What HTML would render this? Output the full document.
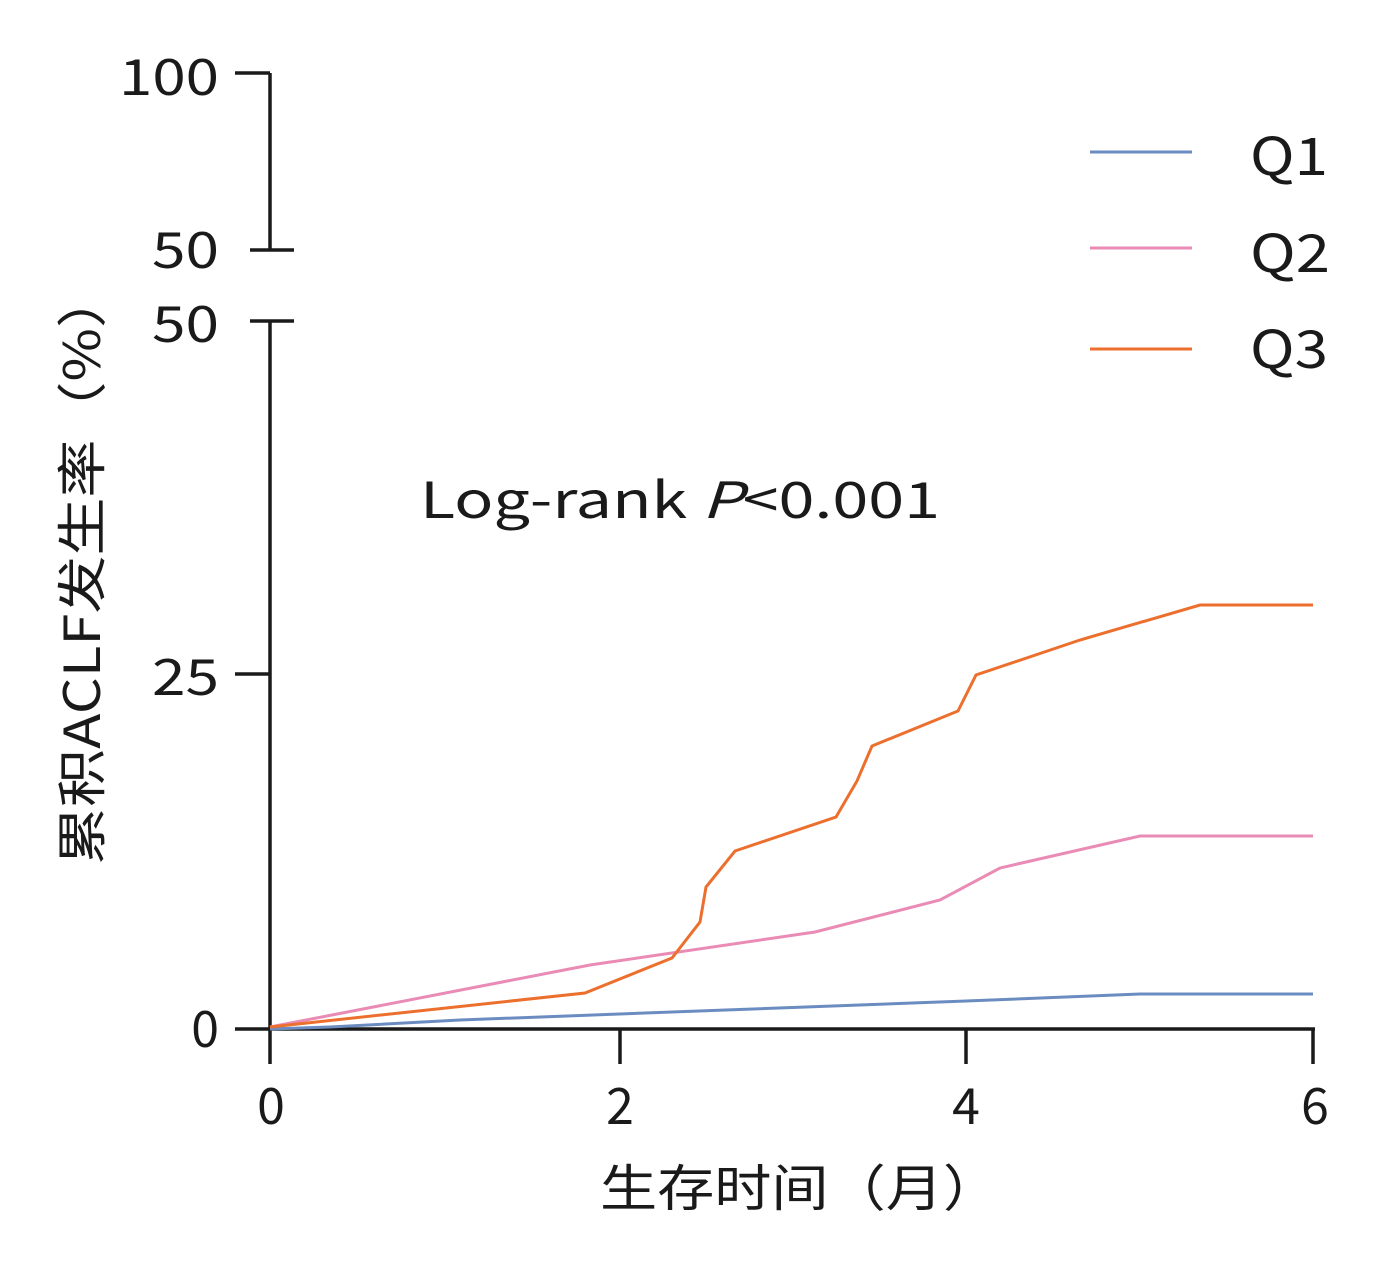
<!DOCTYPE html>
<html><head><meta charset="utf-8"><style>
html,body{margin:0;padding:0;background:#fff;}
svg text{font-family:"Noto Sans CJK SC","Liberation Sans",sans-serif;fill:#1a1a1a;}
</style></head><body>
<svg width="1400" height="1264" viewBox="0 0 1400 1264" xmlns="http://www.w3.org/2000/svg">
<g stroke="#1a1a1a" stroke-width="3.5" fill="none">
<line x1="270" y1="73" x2="270" y2="250"/>
<line x1="235" y1="73" x2="270" y2="73"/>
<line x1="250" y1="250" x2="294" y2="250"/>
<line x1="270" y1="321" x2="270" y2="1064"/>
<line x1="235" y1="1029" x2="1315" y2="1029"/>
<line x1="250" y1="321" x2="294" y2="321"/>
<line x1="235" y1="674" x2="270" y2="674"/>
<line x1="620" y1="1029" x2="620" y2="1064"/>
<line x1="966" y1="1029" x2="966" y2="1064"/>
<line x1="1313" y1="1029" x2="1313" y2="1064"/>
</g>
<g font-size="50" text-anchor="end">
<text x="219" y="95" textLength="100" lengthAdjust="spacingAndGlyphs">100</text>
<text x="219" y="268" textLength="67" lengthAdjust="spacingAndGlyphs">50</text>
<text x="219" y="342" textLength="67" lengthAdjust="spacingAndGlyphs">50</text>
<text x="219" y="695" textLength="67" lengthAdjust="spacingAndGlyphs">25</text>
<text x="219" y="1047">0</text>
</g>
<g font-size="50" text-anchor="middle">
<text x="271" y="1124">0</text>
<text x="620" y="1124">2</text>
<text x="966" y="1124">4</text>
<text x="1315" y="1124">6</text>
</g>
<text x="600" y="1206" font-size="50" textLength="400" lengthAdjust="spacingAndGlyphs">生存时间（月）</text>
<text transform="translate(100,865) rotate(-90)" font-size="50" textLength="595" lengthAdjust="spacingAndGlyphs">累积ACLF发生率（%）</text>
<text x="420" y="518" font-size="50" textLength="520" lengthAdjust="spacingAndGlyphs">Log-rank <tspan font-style="italic">P</tspan>&lt;0.001</text>
<g fill="none" stroke-width="3">
<polyline stroke="#6b8cc0" points="270,1029 330,1027 460,1020 966,1001 1140,994 1313,994"/>
<polyline stroke="#e98bb5" points="270,1027 590,965 815,932 940,900 1000,868 1140,836 1313,836"/>
<polyline stroke="#ec6f2d" points="270,1027 585,993 672,958 700,922 706,887 735,851 836,817 857,781 872,746 958,711 976,675 1080,640 1200,605 1313,605"/>
<line stroke="#6b8cc0" x1="1090" y1="152" x2="1192" y2="152"/>
<line stroke="#e98bb5" x1="1090" y1="248" x2="1192" y2="248"/>
<line stroke="#ec6f2d" x1="1090" y1="349" x2="1192" y2="349"/>
</g>
<g font-size="52">
<text x="1250" y="175" textLength="78" lengthAdjust="spacingAndGlyphs">Q1</text>
<text x="1250" y="272" textLength="80" lengthAdjust="spacingAndGlyphs">Q2</text>
<text x="1250" y="368" textLength="78" lengthAdjust="spacingAndGlyphs">Q3</text>
</g>
</svg>
</body></html>
